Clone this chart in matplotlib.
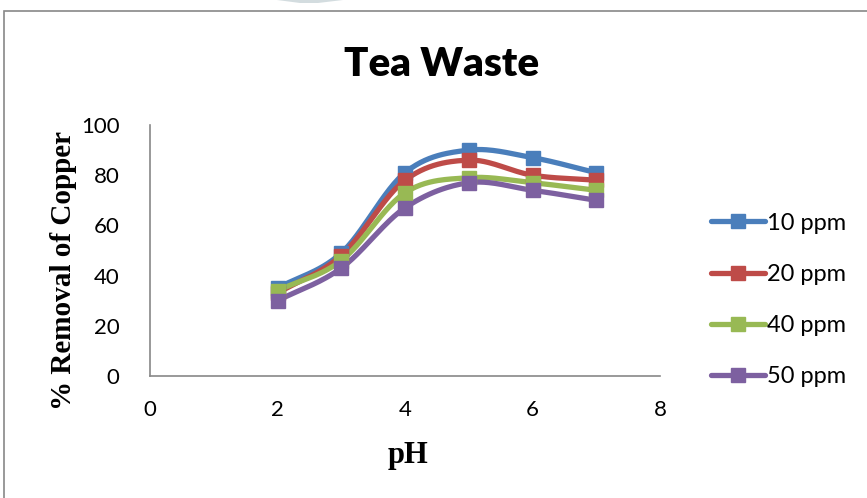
import numpy as np
import matplotlib
matplotlib.use("Agg")
import matplotlib.pyplot as plt
from matplotlib.patches import Rectangle, Polygon

# Copper removal (%) versus pH for several initial concentrations
ph = [2, 3, 4, 5, 6, 7]
series_names = ["10 ppm", "20 ppm", "40 ppm", "50 ppm"]
removal_10 = [35, 49, 81, 90, 87, 81]
removal_20 = [33, 48, 78, 86, 80, 78]
removal_40 = [34, 46, 73, 79, 77, 74]
removal_50 = [30, 43, 67, 77, 74, 70]
colors = ["#4A7EBB", "#BE4B48", "#98B954", "#7D60A0"]

x_ticks = [0, 2, 4, 6, 8]
y_ticks = [0, 20, 40, 60, 80, 100]


def smooth(x, y, n=30):
    """Catmull-Rom curve through the given points (smoothed line style)."""
    x = np.asarray(x, float)
    y = np.asarray(y, float)
    px = np.concatenate([[2 * x[0] - x[1]], x, [2 * x[-1] - x[-2]]])
    py = np.concatenate([[2 * y[0] - y[1]], y, [2 * y[-1] - y[-2]]])
    xs, ys = [], []
    t = np.linspace(0, 1, n)
    for i in range(1, len(px) - 2):
        for p, out in ((px, xs), (py, ys)):
            p0, p1, p2, p3 = p[i - 1], p[i], p[i + 1], p[i + 2]
            out.append(0.5 * ((2 * p1) + (-p0 + p2) * t
                              + (2 * p0 - 5 * p1 + 4 * p2 - p3) * t ** 2
                              + (-p0 + 3 * p1 - 3 * p2 + p3) * t ** 3))
    return np.concatenate(xs), np.concatenate(ys)


W, H = 867, 498
fig = plt.figure(figsize=(W / 100, H / 100), dpi=100)
fig.patch.set_facecolor("white")

# chart frame
fig.patches.append(Rectangle((4 / W, -0.01), 1.0, (H - 11) / H + 0.01,
                             transform=fig.transFigure, fill=False,
                             edgecolor="#888888", linewidth=1.2))
fig.patches.append(Polygon([(277 / W, 1.0), (343 / W, 1.0), (318 / W, (H - 3) / H),
                            (300 / W, (H - 3) / H)], closed=True,
                           transform=fig.transFigure, facecolor="#c8d4d8",
                           edgecolor="none", alpha=0.8))

ax = fig.add_axes([150 / W, 1 - 376 / H, 510 / W, 251 / H])
ax.set_xlim(0, 8)
ax.set_ylim(0, 100)

all_series = [removal_10, removal_20, removal_40, removal_50]
for name, vals, c in zip(series_names, all_series, colors):
    sx, sy = smooth(ph, vals)
    ax.plot(sx, sy, color=c, linewidth=3.8, solid_capstyle="round", zorder=3)
    ax.plot(ph, vals, linestyle="none", marker="s", markersize=10,
            color=c, zorder=4)
    ax.plot([], [], color=c, linewidth=3.8, marker="s", markersize=10,
            solid_capstyle="round", label=name)

for side in ("top", "right"):
    ax.spines[side].set_visible(False)
for side in ("left", "bottom"):
    ax.spines[side].set_color("#888888")
    ax.spines[side].set_linewidth(1.2)

ax.set_xticks(x_ticks)
ax.set_yticks(y_ticks)
ax.tick_params(length=0, labelsize=16)
ax.tick_params(axis="x", pad=17)
ax.tick_params(axis="y", pad=22)
for lab in ax.get_xticklabels() + ax.get_yticklabels():
    lab.set_family("Lato")

fig.text(442 / W, 1 - 64 / H, "Tea Waste", ha="center", va="center",
         fontsize=29, fontweight="heavy", family="Lato")
fig.text(408 / W, 1 - 455 / H, "pH", ha="center", va="center",
         fontsize=22, fontweight="bold", family="Liberation Serif")
fig.text(64 / W, 1 - 271 / H, "% Removal of Copper", ha="center", va="center",
         rotation=90, fontsize=21, fontweight="bold", family="Liberation Serif")

fig.legend(loc="center left", bbox_to_anchor=(699 / W, 1 - 300 / H),
           frameon=False, prop={"family": "Lato", "size": 17},
           handlelength=2.3, handletextpad=0.1, labelspacing=1.28,
           borderpad=0)

fig.savefig("out.png", dpi=100)
